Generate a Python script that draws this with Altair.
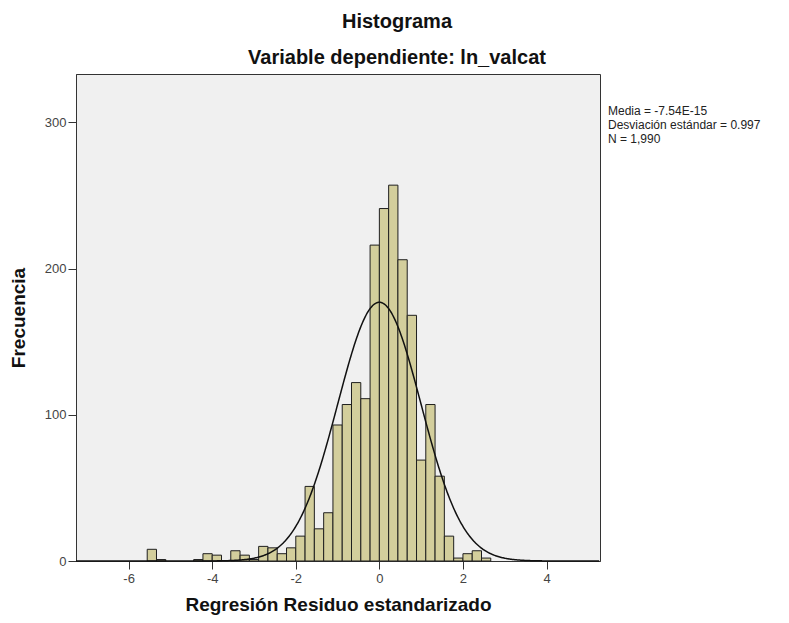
import altair as alt
import pandas as pd

# ---- data ----
BIN_WIDTH = 0.2222
BIN_START = [-5.556, -5.333, -4.444, -4.222, -4.000, -3.556, -3.333, -3.111,
             -2.889, -2.667, -2.444, -2.222, -2.000, -1.778, -1.556, -1.333,
             -1.111, -0.889, -0.667, -0.444, -0.222, 0.000, 0.222, 0.444,
             0.667, 0.889, 1.111, 1.333, 1.556, 1.778, 2.000, 2.222, 2.444]
COUNTS = [8, 1, 1, 5, 4, 7, 4, 1,
          10, 9, 5, 9, 17, 51, 22, 33,
          93, 107, 122, 111, 216, 241, 257, 206,
          168, 69, 107, 58, 17, 2, 5, 7, 2]

MEAN = -7.54e-15
SD = 0.997
N = 1990

X_TICKS = [-6, -4, -2, 0, 2, 4]
Y_TICKS = [0, 100, 200, 300]
X_DOMAIN = [-7.26, 5.28]
Y_DOMAIN = [0, 333]

STATS_LINES = ["Media = -7.54E-15", "Desviación estándar = 0.997", "N = 1,990"]

FONT = "Liberation Sans"

df = pd.DataFrame({"start": BIN_START, "count": COUNTS})

xscale = alt.Scale(domain=X_DOMAIN, nice=False, zero=False)
yscale = alt.Scale(domain=Y_DOMAIN, nice=False)

bars = alt.Chart(df).transform_calculate(
    end=f"datum.start + {BIN_WIDTH}"
).mark_bar(
    fill="#D3CE9C", stroke="#1f1f1f", strokeWidth=1
).encode(
    x=alt.X("start:Q", scale=xscale,
            axis=alt.Axis(values=X_TICKS, title="Regresión Residuo estandarizado",
                          labelExpr="datum.value + ''", tickSize=8, labelPadding=3,
                          titlePadding=10)),
    x2="end:Q",
    y=alt.Y("count:Q", scale=yscale,
            axis=alt.Axis(values=Y_TICKS, title="Frecuencia", tickSize=8,
                          labelPadding=2, titlePadding=16)),
    y2=alt.datum(0),
)

curve = alt.Chart(alt.sequence(X_DOMAIN[0], X_DOMAIN[1], 0.02, as_="x")).transform_calculate(
    y=f"{N} * {BIN_WIDTH} * densityNormal(datum.x, {MEAN}, {SD})"
).mark_line(color="#111111", strokeWidth=1.5).encode(
    x=alt.X("x:Q", scale=xscale),
    y=alt.Y("y:Q", scale=yscale),
)

stats = alt.Chart(pd.DataFrame({"t": ["\n".join(STATS_LINES)]})).mark_text(
    align="left", baseline="alphabetic", fontSize=12, lineHeight=14,
    lineBreak="\n", color="#222222", font=FONT
).encode(
    x=alt.value(532), y=alt.value(41), text="t:N"
)

chart = alt.layer(bars, curve, stats).properties(
    width=524, height=487,
    title=alt.TitleParams(
        text="Histograma", subtitle="Variable dependiente: ln_valcat",
        fontSize=20, subtitleFontSize=20, subtitleFontWeight="bold",
        subtitleColor="#111111", color="#111111", font=FONT, subtitleFont=FONT,
        anchor="middle", dx=59, offset=6, subtitlePadding=16,
    ),
    autosize=alt.AutoSizeParams(type="none"),
    padding={"left": 68, "top": 66, "right": 170, "bottom": 60},
).configure(
    font=FONT, background="white"
).configure_view(
    fill="#F0F0F0", stroke="#333333", strokeWidth=1
).configure_axis(
    grid=False, domainColor="#333333", tickColor="#333333",
    labelFontSize=13, labelColor="#444444", labelFont=FONT,
    titleFontSize=19, titleFont=FONT, titleColor="#111111", titleFontWeight="bold",
)

chart.save("out.html", embed_options={"renderer": "svg", "actions": False})
